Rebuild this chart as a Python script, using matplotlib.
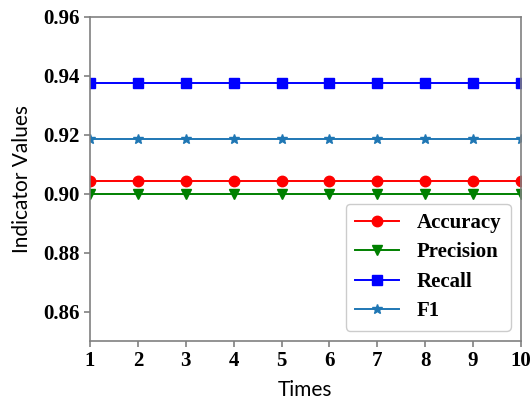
import matplotlib
matplotlib.use("Agg")
import matplotlib.pyplot as plt

times = [1, 2, 3, 4, 5, 6, 7, 8, 9, 10]
accuracy = [0.9044] * 10
precision = [0.9000] * 10
recall = [0.9375] * 10
f1 = [0.9185] * 10

fig = plt.figure(figsize=(5.31, 4.01), dpi=100)
ax = fig.add_axes([90/531, 1-341/401, (521-90)/531, (341-17)/401])

ax.plot(times, accuracy, color="red", marker="o", markersize=7.5, lw=1.4, label="Accuracy")
ax.plot(times, precision, color="green", marker="v", markersize=7.5, lw=1.4, label="Precision")
ax.plot(times, recall, color="blue", marker="s", markersize=7.5, lw=1.4, label="Recall")
ax.plot(times, f1, color="#1f77b4", marker="*", markersize=7.5, lw=1.4, label="F1")

ax.set_xlim(1, 10)
ax.set_ylim(0.85, 0.96)
ax.set_xticks(times)
ax.set_yticks([0.86, 0.88, 0.90, 0.92, 0.94, 0.96])
ax.set_yticklabels(["0.86", "0.88", "0.90", "0.92", "0.94", "0.96"])

for s in ax.spines.values():
    s.set_color("#808080")
    s.set_linewidth(1.2)
ax.tick_params(colors="#808080", labelcolor="black", length=4, width=1.2)
for lab in ax.get_xticklabels() + ax.get_yticklabels():
    lab.set_fontfamily("Liberation Serif")
    lab.set_fontweight("bold")
    lab.set_fontsize(15)

ax.set_xlabel("Times", fontfamily="Lato", fontsize=15, labelpad=6)
ax.set_ylabel("Indicator Values", fontfamily="Lato", fontsize=15, labelpad=8)

leg = ax.legend(loc="lower right", prop={"family": "Liberation Serif", "weight": "bold", "size": 15},
                fancybox=True, framealpha=1, edgecolor="#cccccc", handlelength=2.1,
                handletextpad=0.85, borderpad=0.45, labelspacing=0.45, borderaxespad=0.5)

fig.savefig("out.png", dpi=100)
